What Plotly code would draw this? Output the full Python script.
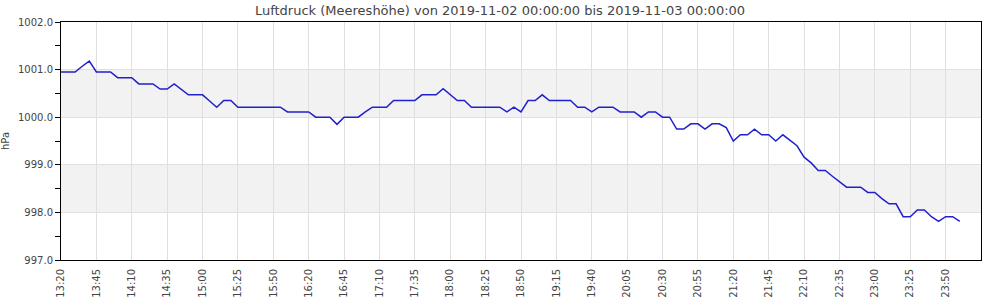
import plotly.graph_objects as go

# 5-minute timestamps (category axis); one slot (16:00) absent in source data
times = []
h, m = 13, 20
while (h, m) != (0, 5):
    lab = f"{h:02d}:{m:02d}"
    if lab != "16:00":
        times.append(lab)
    m += 5
    if m == 60:
        m = 0
        h = (h + 1) % 24

pressure = [
    1000.95, 1000.95, 1000.95, 1001.07, 1001.18, 1000.95, 1000.95, 1000.95,
    1000.83, 1000.83, 1000.83, 1000.70, 1000.70, 1000.70, 1000.59, 1000.59,
    1000.70, 1000.59, 1000.47, 1000.47, 1000.47, 1000.34, 1000.21, 1000.35,
    1000.35, 1000.21, 1000.21, 1000.21, 1000.21, 1000.21, 1000.21, 1000.21,
    1000.11, 1000.11, 1000.11, 1000.11, 1000.00, 1000.00, 1000.00, 999.85,
    1000.00, 1000.00, 1000.00, 1000.11, 1000.21, 1000.21, 1000.21, 1000.35,
    1000.35, 1000.35, 1000.35, 1000.47, 1000.47, 1000.47, 1000.60, 1000.47,
    1000.35, 1000.35, 1000.21, 1000.21, 1000.21, 1000.21, 1000.21, 1000.11,
    1000.21, 1000.11, 1000.35, 1000.35, 1000.47, 1000.35, 1000.35, 1000.35,
    1000.35, 1000.21, 1000.21, 1000.11, 1000.21, 1000.21, 1000.21, 1000.11,
    1000.11, 1000.11, 1000.00, 1000.11, 1000.11, 1000.00, 1000.00, 999.75,
    999.75, 999.86, 999.86, 999.75, 999.86, 999.86, 999.78, 999.50,
    999.63, 999.63, 999.75, 999.63, 999.63, 999.50, 999.63, 999.52,
    999.40, 999.16, 999.04, 998.88, 998.88, 998.76, 998.65, 998.53,
    998.53, 998.53, 998.42, 998.42, 998.29, 998.18, 998.18, 997.91,
    997.91, 998.05, 998.05, 997.91, 997.81, 997.91, 997.91, 997.81,
]

tick_labels = times[::5]
y_ticks = [997.0, 998.0, 999.0, 1000.0, 1001.0, 1002.0]
bands = [(998.0, 999.0), (1000.0, 1001.0)]
title = "Luftdruck (Meereshöhe) von 2019-11-02 00:00:00 bis 2019-11-03 00:00:00"

fig = go.Figure()
fig.add_trace(go.Scatter(x=times, y=pressure, mode="lines",
                         line=dict(color="#2020cc", width=1.5),
                         hoverinfo="x+y"))

for y0, y1 in bands:
    fig.add_shape(type="rect", xref="paper", yref="y", x0=0, x1=1, y0=y0, y1=y1,
                  fillcolor="#f2f2f2", line=dict(width=0), layer="below")

font = "DejaVu Sans, sans-serif"
fig.update_layout(
    width=1000, height=300,
    margin=dict(l=61, r=19, t=22, b=40, autoexpand=False),
    paper_bgcolor="white", plot_bgcolor="white",
    showlegend=False,
    font=dict(family=font, size=10, color="#444444"),
    title=dict(text=title, x=0.5, xref="container", xanchor="center",
               y=0.965, yref="container", yanchor="middle",
               font=dict(family=font, size=13, color="#444444")),
)
fig.update_xaxes(
    type="category", range=[0, 130], automargin=False,
    tickvals=tick_labels, ticktext=tick_labels, tickangle=-90,
    showgrid=True, gridcolor="#e0e0e0", gridwidth=1,
    showline=True, linecolor="black", linewidth=1, mirror=True,
    ticks="", ticklabelstandoff=4,
    tickfont=dict(family=font, size=10, color="#444444"),
    zeroline=False,
)
fig.update_yaxes(
    range=[997.0, 1002.0], tickvals=y_ticks, tickformat=".1f", automargin=False,
    showgrid=True, gridcolor="#e0e0e0", gridwidth=1,
    showline=True, linecolor="black", linewidth=1, mirror=True,
    ticks="outside", ticklen=5, tickcolor="black",
    minor=dict(dtick=0.5, tick0=997.0, ticks="outside", ticklen=5, tickcolor="black", showgrid=False),
    tickfont=dict(family=font, size=10, color="#444444"),
    title=dict(text="hPa", font=dict(family=font, size=10, color="#444444"), standoff=6),
    zeroline=False,
)

fig.write_html("out.html")
